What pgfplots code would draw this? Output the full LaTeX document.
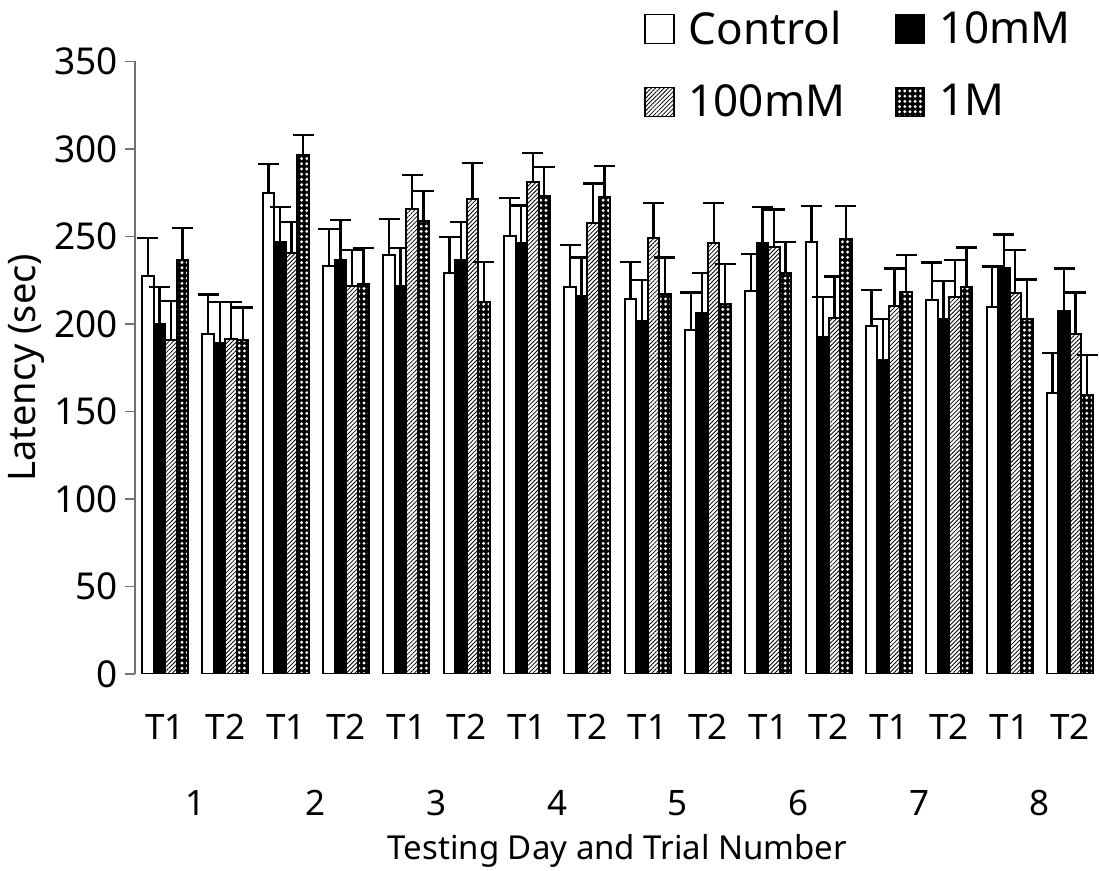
\documentclass[border=0pt]{standalone}
\usepackage{fontspec}
\setmainfont{Noto Sans}
\usepackage{pgfplots}
\pgfplotsset{compat=1.18}
\usepackage{pgfplotstable}
\usetikzlibrary{patterns,patterns.meta}

\pgfplotstableread{
x   c     ce    a     ae    b     be    d     de
0   227.3 21.7  199.8 21.4  190.6 22.4  236.8 18.0
1   194.5 22.4  189.4 23.0  191.4 21.0  190.6 18.9
2   275.1 16.3  247.0 20.0  240.5 17.7  296.5 11.6
3   233.2 21.0  236.8 22.5  221.6 20.8  222.6 20.8
4   239.3 20.6  221.6 21.8  265.8 19.5  258.6 17.4
5   229.1 20.6  236.8 21.4  271.5 20.4  212.4 23.0
6   250.5 21.4  246.4 21.4  281.1 16.5  273.1 16.7
7   221.2 23.8  215.9 22.0  257.6 22.6  272.5 17.9
8   214.5 20.9  201.8 23.4  249.1 19.9  216.9 21.0
9   196.5 21.6  206.3 22.8  246.0 23.0  211.4 22.8
10  219.0 20.9  246.0 20.8  244.0 21.4  229.3 17.7
11  246.6 20.8  192.6 22.9  203.6 23.5  248.5 18.9
12  198.6 20.9  179.2 23.6  210.4 21.2  218.5 20.8
13  213.8 21.4  202.6 22.0  215.5 20.9  221.0 22.8
14  209.8 23.0  232.2 18.9  217.5 24.9  202.6 22.8
15  160.5 22.8  207.3 24.3  194.1 24.0  159.4 23.0
}\data

\begin{document}
\begin{tikzpicture}
\useasboundingbox (0pt,0pt) rectangle (549.5pt,435.5pt);
\begin{axis}[
  at={(67.5pt,98.5pt)}, anchor=south west,
  scale only axis, width=482.5pt, height=306.25pt,
  ymin=0, ymax=350, ytick={0,50,...,350},
  xmin=-0.5, xmax=15.5,
  axis x line*=bottom, axis y line*=left,
  x axis line style={draw=none},
  y axis line style={draw=black!55, line width=0.8pt, -},
  ytick style={draw=black!55, line width=0.8pt},
  xtick style={draw=none},
  tick align=outside, major tick length=5pt,
  xtick={0,...,15},
  xticklabels={T1,T2,T1,T2,T1,T2,T1,T2,T1,T2,T1,T2,T1,T2,T1,T2},
  xticklabel style={anchor=base, yshift=-28pt, font=\fontsize{17.5}{20}\selectfont},
  extra x ticks={0.5,2.5,4.5,6.5,8.5,10.5,12.5,14.5},
  extra x tick labels={1,2,3,4,5,6,7,8},
  extra x tick style={tick style={draw=none}, xticklabel style={yshift=-38pt}},
  yticklabel style={font=\fontsize{18.5}{21}\selectfont, /pgf/number format/assume math mode=true},
  ylabel={Latency (sec)},
  ylabel style={at={(axis description cs:-0.112,0.5)}, anchor=center, font=\fontsize{19}{22}\selectfont},
  xlabel={Testing Day and Trial Number},
  xlabel style={at={(axis description cs:0.5,-0.303)}, anchor=base, font=\fontsize{16.5}{19}\selectfont},
  ybar=0pt, bar width=5.75pt,
  every axis plot/.append style={draw=black, line width=1pt},
  error bars/y dir=plus, error bars/y explicit,
  error bars/error bar style={line width=1.2pt, black},
  error bars/error mark options={rotate=90, mark size=5.25pt, line width=1.2pt, black},
  legend columns=2,
  legend cell align=left,
  legend style={draw=none, fill=none, at={(axis description cs:0.5275,1.09)}, anchor=north west,
    font=\fontsize{22}{25}\selectfont, inner sep=0pt, column sep=0pt, row sep=14.5pt,
    /tikz/every odd column/.append style={column sep=5pt},
    /tikz/every even column/.append style={column sep=23pt}},
  legend image code/.code={\draw[#1, line width=0.6pt] (0pt,-7.25pt) rectangle (14.5pt,7.25pt);},
]
\addplot[fill=white] table[x=x, y=c, y error=ce] {\data};
\addplot[fill=black] table[x=x, y=a, y error=ae] {\data};
\addplot[fill=white, postaction={pattern={Lines[angle=45,distance=1.5pt,line width=0.4pt]}, pattern color=black}] table[x=x, y=b, y error=be] {\data};
\addplot[fill=black, postaction={pattern={Dots[distance=2.6pt,radius=0.8pt]}, pattern color=white}] table[x=x, y=d, y error=de] {\data};
\legend{Control,10mM,100mM,1M}
\end{axis}
\end{tikzpicture}
\end{document}
